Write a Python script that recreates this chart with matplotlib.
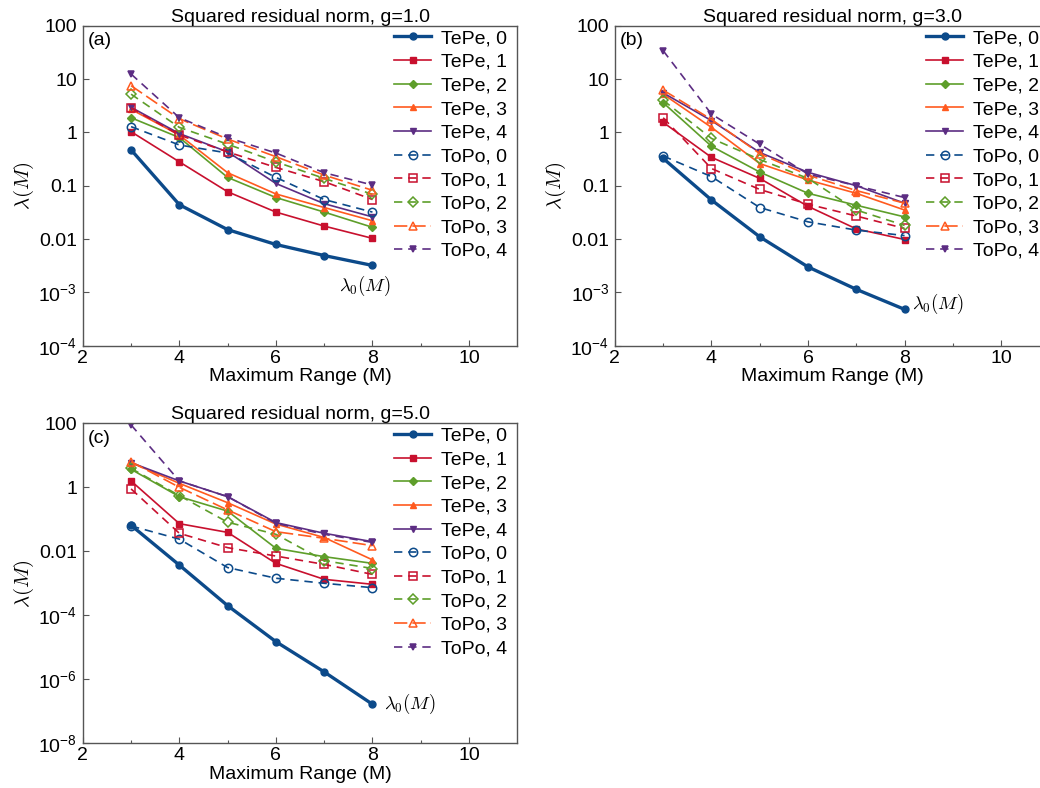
import matplotlib
matplotlib.use('Agg')
import matplotlib.pyplot as plt
from matplotlib.ticker import NullLocator

plt.rcParams['font.family'] = ['Liberation Sans', 'DejaVu Sans']
plt.rcParams['mathtext.fontset'] = 'custom'
plt.rcParams['mathtext.rm'] = 'Liberation Sans'
plt.rcParams['mathtext.it'] = 'Liberation Sans:italic'
plt.rcParams['mathtext.bf'] = 'Liberation Sans:bold'
plt.rcParams['font.size'] = 14

M = [3, 4, 5, 6, 7, 8]
names = ['TePe, 0', 'TePe, 1', 'TePe, 2', 'TePe, 3', 'TePe, 4',
         'ToPo, 0', 'ToPo, 1', 'ToPo, 2', 'ToPo, 3', 'ToPo, 4']

# g = 1.0
tepe_g1 = [
    [0.47, 0.044, 0.015, 0.0079, 0.0049, 0.0032],
    [1.03, 0.28, 0.077, 0.032, 0.0175, 0.0103],
    [1.88, 0.80, 0.143, 0.060, 0.032, 0.0166],
    [2.7, 0.89, 0.175, 0.070, 0.039, 0.022],
    [2.95, 0.95, 0.43, 0.11, 0.046, 0.026],
]
topo_g1 = [
    [1.28, 0.58, 0.41, 0.143, 0.055, 0.032],
    [2.86, 0.89, 0.43, 0.22, 0.119, 0.055],
    [5.2, 1.24, 0.60, 0.28, 0.137, 0.069],
    [7.5, 1.8, 0.75, 0.35, 0.158, 0.082],
    [12.4, 1.88, 0.80, 0.41, 0.175, 0.103],
]

# g = 3.0
tepe_g3 = [
    [0.325, 0.054, 0.011, 0.0030, 0.00114, 0.00048],
    [1.54, 0.34, 0.137, 0.041, 0.0155, 0.0098],
    [3.6, 0.55, 0.18, 0.072, 0.043, 0.026],
    [5.2, 1.24, 0.26, 0.128, 0.072, 0.035],
    [5.5, 1.66, 0.42, 0.178, 0.10, 0.047],
]
topo_g3 = [
    [0.36, 0.148, 0.039, 0.021, 0.0147, 0.0116],
    [1.88, 0.21, 0.085, 0.045, 0.027, 0.0158],
    [4.0, 0.77, 0.31, 0.137, 0.035, 0.018],
    [6.2, 1.75, 0.40, 0.158, 0.081, 0.047],
    [34.0, 2.2, 0.60, 0.165, 0.10, 0.060],
]

# g = 5.0
tepe_g5 = [
    [0.065, 0.0037, 2.0e-4, 1.5e-5, 1.7e-6, 1.66e-7],
    [1.58, 0.073, 0.039, 0.0042, 0.00133, 0.00093],
    [3.65, 0.51, 0.18, 0.0124, 0.0068, 0.0042],
    [5.9, 1.33, 0.33, 0.071, 0.027, 0.0054],
    [5.9, 1.58, 0.51, 0.079, 0.0365, 0.020],
]
topo_g5 = [
    [0.062, 0.024, 0.0031, 0.00144, 0.0010, 0.00073],
    [0.89, 0.0365, 0.013, 0.0071, 0.0039, 0.0019],
    [3.9, 0.55, 0.081, 0.034, 0.0051, 0.0029],
    [6.3, 1.0, 0.196, 0.041, 0.0255, 0.015],
    [89.0, 1.58, 0.51, 0.075, 0.034, 0.019],
]

colors = ['#0C4A8A', '#C8102E', '#5E9E2A', '#FF5A1F', '#5C2D83']
markers = ['o', 's', 'D', '^', 'v']

fig = plt.figure(figsize=(10.4, 7.88), dpi=100)
W, H = 1040, 788


def make_axes(left, top):
    return fig.add_axes([left / W, (H - top - 320) / H, 434.5 / W, 320 / H])


ax_a = make_axes(82.8, 25.7)
ax_b = make_axes(614.9, 25.7)
ax_c = make_axes(82.8, 423.3)

panels = [
    (ax_a, tepe_g1, topo_g1, 'Squared residual norm, g=1.0', '(a)',
     (1e-4, 100), [1e-4, 1e-3, 1e-2, 1e-1, 1, 10, 100],
     ['10$^{-4}$', '10$^{-3}$', '0.01', '0.1', '1', '10', '100'], (7.3, 1.3e-3)),
    (ax_b, tepe_g3, topo_g3, 'Squared residual norm, g=3.0', '(b)',
     (1e-4, 100), [1e-4, 1e-3, 1e-2, 1e-1, 1, 10, 100],
     ['10$^{-4}$', '10$^{-3}$', '0.01', '0.1', '1', '10', '100'], (8.15, 6e-4)),
    (ax_c, tepe_g5, topo_g5, 'Squared residual norm, g=5.0', '(c)',
     (1e-8, 100), [1e-8, 1e-6, 1e-4, 1e-2, 1, 100],
     ['10$^{-8}$', '10$^{-6}$', '10$^{-4}$', '0.01', '1', '100'], (8.24, 1.7e-7)),
]

for ax, tepe, topo, title, tag, ylim, yt, ytl, lam_pos in panels:
    for i in range(5):
        lw = 2.4 if i == 0 else 1.2
        ms = 4.5 if markers[i] == 'D' else 5
        ax.plot(M, tepe[i], color=colors[i], lw=lw, marker=markers[i],
                ms=ms, mfc=colors[i], mec=colors[i], label=names[i])
    for i in range(5):
        mfc = colors[i] if i == 4 else 'none'
        dash = (8, 3) if i == 3 else (5, 3.5)
        ms = 5.5 if markers[i] == 'D' else 6
        if i == 4:
            ms = 5
        ax.plot(M, topo[i], color=colors[i], lw=1.2, marker=markers[i],
                ms=ms, mfc=mfc, mec=colors[i], mew=1.1,
                linestyle=(0, dash), label=names[5 + i])

    ax.set_yscale('log')
    ax.set_xlim(2, 11)
    ax.set_ylim(*ylim)
    ax.set_xticks([2, 4, 6, 8, 10])
    ax.set_xticks([3, 5, 7, 9], minor=True)
    ax.set_yticks(yt)
    ax.set_yticklabels(ytl)
    ax.yaxis.set_minor_locator(NullLocator())
    ax.tick_params(which='both', direction='in', color='#555555',
                   labelsize=14, top=False, right=False)
    ax.tick_params(which='major', length=4, width=0.8)
    ax.tick_params(which='minor', length=2.5, width=0.8)
    ax.tick_params(axis='y', pad=4)
    ax.tick_params(axis='x', pad=3)
    for sp in ax.spines.values():
        sp.set_color('#555555')
        sp.set_linewidth(1.0)

    ax.set_title(title, fontsize=14, pad=3)
    ax.set_xlabel('Maximum Range (M)', fontsize=14, labelpad=1)
    ax.set_ylabel(r'$\lambda(M)$', fontsize=15, math_fontfamily='cm',
                  labelpad=2)
    ax.text(0.012, 0.98, tag, transform=ax.transAxes, ha='left', va='top',
            fontsize=14)
    ax.text(lam_pos[0], lam_pos[1], r'$\lambda_0(M)$', math_fontfamily='cm',
            ha='left', va='center', fontsize=13.5)
    ax.legend(loc='upper right', bbox_to_anchor=(0.985, 1.0), frameon=False,
              fontsize=14, labelspacing=0.31, handlelength=1.9,
              handletextpad=0.5, borderaxespad=0.0, borderpad=0.2)

fig.savefig('out.png', dpi=100)
